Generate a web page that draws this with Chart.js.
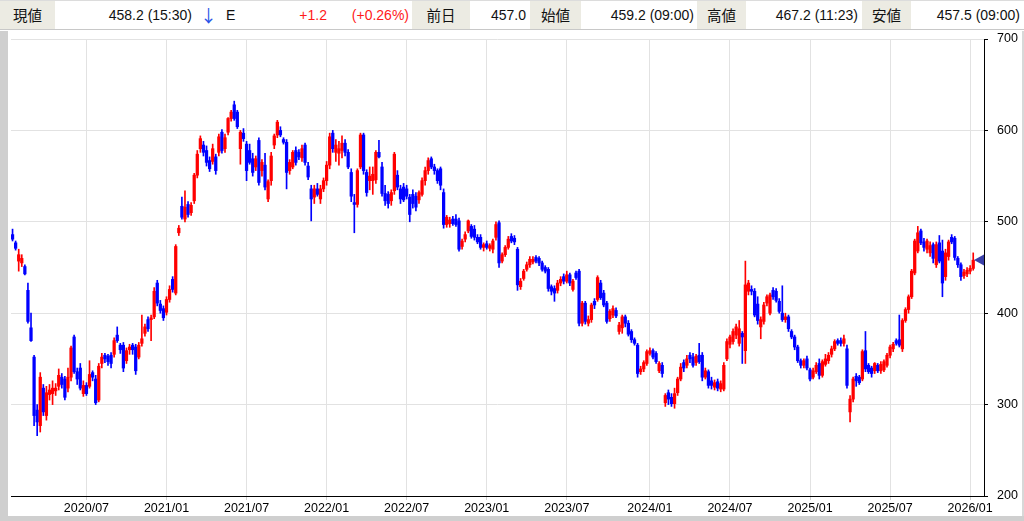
<!DOCTYPE html>
<html>
<head>
<meta charset="utf-8">
<script src="https://cdn.jsdelivr.net/npm/chart.js@4.4.1/dist/chart.umd.min.js"></script>
<style>
  html, body { margin: 0; padding: 0; width: 1024px; height: 521px; overflow: hidden; background: #ffffff; }
  #hdr { position: absolute; left: 0; top: 0; width: 1024px; height: 30px; border-bottom: 1px solid #c8c8c8; border-top: 1px solid #dcdcdc; box-sizing: border-box;
         font-family: "Liberation Sans", "Noto Sans CJK JP", sans-serif; font-size: 14px; color: #111; }
  #hdr span { position: absolute; top: 0; height: 28px; line-height: 28px; white-space: nowrap; }
  #hdr .lab { background: #ecebe3; text-align: center; font-family: "Noto Sans CJK JP", sans-serif; font-size: 14.5px; }
  #hdr .num { text-align: right; }
  #hdr .red { color: #ff1a1a; }
  #frameL { position: absolute; left: 0; top: 31px; width: 8px; height: 490px; background: #cfcfcf; }
  #frameB { position: absolute; left: 0; top: 516px; width: 1024px; height: 5px; background: #cfcfcf; }
  #frameR { position: absolute; left: 1022px; top: 31px; width: 2px; height: 490px; background: #d8d8d8; }
  #wrap { position: absolute; left: 8px; top: 31px; width: 1014px; height: 485px; }
</style>
</head>
<body>
<div id="hdr">
  <span class="lab" style="left:0;width:55px;">現値</span>
  <span class="num" style="left:60px;width:132px;">458.2 (15:30)</span>
  <span style="left:200px;width:14px;color:#2a55e8;font-family:'Noto Sans CJK JP',sans-serif;font-size:17px;">↓</span>
  <span style="left:226px;width:12px;">E</span>
  <span class="num red" style="left:280px;width:47px;">+1.2</span>
  <span class="num red" style="left:340px;width:69px;">(+0.26%)</span>
  <span class="lab" style="left:412px;width:58px;">前日</span>
  <span class="num" style="left:470px;width:56px;">457.0</span>
  <span class="lab" style="left:530px;width:51px;">始値</span>
  <span class="num" style="left:585px;width:109px;">459.2 (09:00)</span>
  <span class="lab" style="left:697px;width:49px;">高値</span>
  <span class="num" style="left:750px;width:108px;">467.2 (11:23)</span>
  <span class="lab" style="left:862px;width:49px;">安値</span>
  <span class="num" style="left:915px;width:105px;">457.5 (09:00)</span>
</div>
<div id="frameL"></div>
<div id="frameR"></div>
<div id="frameB"></div>
<div id="wrap"><canvas id="c" width="1014" height="485" style="width:1014px;height:485px;"></canvas></div>
<script>
// ---- data (weekly candles, first week = week of 2020-01-13) ----
const startMonday = [2020, 0, 13];
const slotCount = 316;           // weekly slots on the axis (last few empty)
const tickLabels = ["2020/07","2021/01","2021/07","2022/01","2022/07","2023/01","2023/07","2024/01","2024/07","2025/01","2025/07","2026/01"];
const lastPrice = 458.2;

const opens = [
486,477,457,455,451,425,384,352,294,277,318,288,311,312,315,320,330,328,318,330,
374,336,340,312,321,320,335,328,305,345,354,353,354,355,376,365,365,348,360,365,
363,352,367,378,393,393,396,433,410,405,401,415,437,422,488,517,503,519,510,523,
551,580,584,578,567,566,571,576,598,580,598,613,628,620,580,597,585,578,569,560,
589,556,562,525,545,584,595,600,590,587,556,560,578,576,570,584,561,536,527,536,
525,536,545,562,597,576,575,578,586,576,554,521,519,560,595,554,545,545,546,576,
560,531,530,523,534,551,536,538,536,527,530,528,524,530,545,556,569,560,556,558,
532,497,498,503,503,501,473,481,490,495,492,483,483,472,476,471,470,483,499,457,
464,472,484,482,470,429,438,448,453,456,461,460,455,450,448,429,427,425,433,440,
435,442,426,444,446,389,411,389,393,413,415,433,422,411,394,398,403,380,384,396,
389,380,371,365,336,339,345,356,359,356,337,343,302,313,308,301,313,328,346,343,
354,352,346,354,354,330,336,326,319,325,317,317,350,366,369,376,367,378,359,424,
426,424,410,385,391,411,400,425,424,413,400,393,396,380,374,363,348,343,350,338,
330,336,345,332,344,348,355,361,370,370,367,361,292,306,331,330,328,359,343,340,
337,343,337,338,343,354,361,370,371,361,392,404,418,444,468,490,478,470,466,475,
453,477,468,440,462,483,482,460,453,441,443,446,449];
const highs = [
492,479,470,464,453,433,400,354,300,335,322,320,322,326,323,339,334,331,340,364,
376,340,345,326,324,348,337,332,345,356,356,355,357,373,385,367,368,362,366,367,
366,368,398,388,396,398,428,436,414,408,418,430,440,475,496,527,534,522,521,553,
578,594,588,583,571,585,574,596,601,596,614,622,632,622,600,602,588,585,575,572,
592,568,575,546,576,596,611,604,592,590,568,578,582,579,584,586,565,540,540,542,
540,548,566,597,600,590,588,594,590,579,558,530,558,597,597,557,560,560,578,589,
565,540,533,535,576,556,540,542,540,530,535,532,534,548,560,570,571,563,558,560,
536,507,505,506,508,504,481,489,502,497,496,486,486,477,479,476,481,500,501,466,
474,484,487,485,472,438,448,456,462,462,463,462,457,452,450,431,430,436,440,443,
446,444,437,446,448,413,413,397,411,416,441,436,425,413,404,408,406,390,398,398,
392,382,373,367,342,348,360,362,361,358,347,346,312,316,312,318,330,345,349,354,
357,356,355,367,357,340,338,330,327,328,326,346,372,376,383,388,392,380,457,436,
430,427,418,396,412,420,422,428,427,416,430,400,398,382,376,365,350,350,353,340,
340,346,350,349,355,357,364,371,372,373,376,365,310,330,334,332,360,380,345,342,
346,345,347,349,356,365,368,372,398,394,406,420,448,481,495,492,482,481,478,477,
478,485,480,470,480,486,484,462,455,448,450,452,466];
const lows = [
479,469,446,451,442,389,369,277,266,270,288,283,305,300,310,316,318,305,314,326,
334,322,316,309,310,318,326,300,303,340,346,343,340,352,368,356,336,345,355,355,
333,350,364,375,380,370,394,408,400,392,398,412,423,420,485,503,500,505,507,520,
548,576,572,561,555,563,552,572,575,576,595,610,611,602,563,588,545,563,550,556,
540,550,535,522,540,580,592,593,585,536,552,558,562,568,566,562,546,501,520,528,
520,533,540,558,576,566,562,570,572,558,522,488,516,558,552,528,535,530,542,570,
528,518,515,518,530,535,520,522,525,500,515,512,520,528,540,552,558,552,542,535,
493,494,494,496,495,468,470,478,488,482,480,476,470,468,470,468,466,480,450,455,
462,470,477,475,425,426,436,446,450,454,455,452,446,444,424,420,413,422,430,432,
433,430,424,437,386,386,388,386,390,405,413,415,407,389,391,395,395,377,378,385,
375,368,365,330,333,336,343,354,350,345,335,330,298,300,298,296,310,326,336,340,
346,341,343,345,326,328,318,317,316,315,314,315,348,362,366,372,364,345,345,420,
420,396,388,372,388,408,398,415,412,400,391,390,380,372,360,346,340,340,338,326,
328,334,328,330,342,345,352,359,365,364,364,318,281,303,320,322,326,336,334,330,
334,335,334,336,341,351,358,365,363,358,390,400,416,442,466,475,468,466,462,455,
450,455,418,436,458,476,458,450,436,438,440,443,447];
const closes = [
481,471,464,460,443,391,370,288,281,330,292,313,316,318,318,332,322,308,330,362,
336,328,318,321,312,333,330,302,342,352,350,347,345,370,370,360,340,359,363,360,
337,365,372,385,383,395,424,411,403,395,415,426,426,473,493,505,516,508,518,551,
574,591,576,565,558,580,556,593,578,592,613,620,613,604,598,591,556,565,554,569,
543,565,538,544,572,594,609,595,587,554,565,576,565,571,580,565,549,525,536,530,
536,545,562,593,580,584,580,586,576,560,528,519,556,595,556,532,550,552,576,571,
531,523,520,532,574,538,525,524,528,508,520,516,532,545,556,567,560,556,545,540,
497,505,502,498,497,470,479,486,501,484,483,478,472,475,472,474,479,497,455,464,
472,481,479,478,431,435,446,453,459,459,457,455,448,446,427,424,422,433,437,435,
442,433,435,439,389,411,391,393,409,409,439,417,409,391,402,405,397,387,396,389,
377,371,367,334,339,346,358,359,352,347,345,334,310,306,301,312,328,341,340,350,
350,343,353,347,330,337,321,321,324,318,323,343,369,374,380,385,383,374,431,433,
424,398,392,393,409,418,420,418,414,402,393,396,383,374,363,348,343,348,340,328,
337,343,332,347,350,354,361,369,367,367,372,321,306,328,326,324,358,339,336,334,
345,337,344,347,354,363,366,367,365,392,404,418,446,479,488,477,472,479,474,460,
475,457,433,466,478,478,461,453,440,445,447,449,458];

// ---- build categories (weekly) ----
function weekInfo(i) {
  const mon = new Date(Date.UTC(startMonday[0], startMonday[1], startMonday[2] + 7 * i));
  const sun = new Date(Date.UTC(startMonday[0], startMonday[1], startMonday[2] + 7 * i + 6));
  const cat = mon.getUTCFullYear() + '/' + String(mon.getUTCMonth() + 1).padStart(2, '0') + '/' + String(mon.getUTCDate()).padStart(2, '0');
  let tick = null;
  if (sun.getUTCDate() <= 7) {
    const t = sun.getUTCFullYear() + '/' + String(sun.getUTCMonth() + 1).padStart(2, '0');
    if (tickLabels.includes(t)) tick = t;
  }
  return { cat, tick };
}
const infos = [];
for (let i = 0; i < slotCount; i++) infos.push(weekInfo(i));
const categories = infos.map(w => w.cat);

const UP = '#ff0000', DOWN = '#0000ff';
const colors = closes.map((c, i) => c >= opens[i] ? UP : DOWN);
const wickData = lows.map((l, i) => [l, highs[i]]);
const bodyData = opens.map((o, i) => {
  const c = closes[i];
  return o === c ? [o - 0.6, c + 0.6] : [Math.min(o, c), Math.max(o, c)];
});

const GRID = '#e2e2e2';
const axisFont = { family: '"Liberation Sans", Arial, sans-serif', size: 12.5 };

const markerPlugin = {
  id: 'lastMarker',
  afterDatasetsDraw(chart) {
    const ctx = chart.ctx, y = chart.scales.y.getPixelForValue(lastPrice), x = chart.chartArea.right;
    ctx.save();
    ctx.fillStyle = '#3a3fa8';
    ctx.beginPath();
    ctx.moveTo(x - 10, y);
    ctx.lineTo(x, y - 5.5);
    ctx.lineTo(x, y + 5.5);
    ctx.closePath();
    ctx.fill();
    ctx.restore();
  }
};

new Chart(document.getElementById('c'), {
  type: 'bar',
  data: {
    labels: categories,
    datasets: [
      { data: wickData, backgroundColor: colors, barThickness: 1, borderWidth: 0, grouped: false, order: 2 },
      { data: bodyData, backgroundColor: colors, barThickness: 2.6, borderWidth: 0, grouped: false, order: 1 }
    ]
  },
  options: {
    responsive: false,
    animation: false,
    devicePixelRatio: 1,
    layout: { padding: { left: 3, top: 8, right: 0, bottom: 0 } },
    plugins: { legend: { display: false }, tooltip: { enabled: false } },
    scales: {
      x: {
        type: 'category',
        offset: true,
        grid: {
          offset: false,
          color: c => (infos[c.index] && infos[c.index].tick) ? GRID : 'rgba(0,0,0,0)',
          tickColor: c => (infos[c.index] && infos[c.index].tick) ? '#cfcfcf' : 'rgba(0,0,0,0)',
          tickLength: 4,
          lineWidth: 1
        },
        border: { color: '#000', width: 1 },
        ticks: {
          autoSkip: false, maxRotation: 0, minRotation: 0, padding: 1,
          color: '#000', font: axisFont,
          callback: (v, i) => (infos[i] && infos[i].tick) ? infos[i].tick : ''
        },
        afterFit: s => { s.height = 20; }
      },
      y: {
        position: 'right',
        min: 200, max: 700,
        grid: { color: GRID, tickColor: '#000', tickLength: 4, lineWidth: 1 },
        border: { color: '#000', width: 1 },
        ticks: { stepSize: 100, color: '#000', font: axisFont, padding: 9 },
        afterFit: s => { s.width = 38; s.paddingTop = 0; s.paddingBottom = 0; }
      }
    }
  },
  plugins: [markerPlugin]
});
</script>
</body>
</html>
